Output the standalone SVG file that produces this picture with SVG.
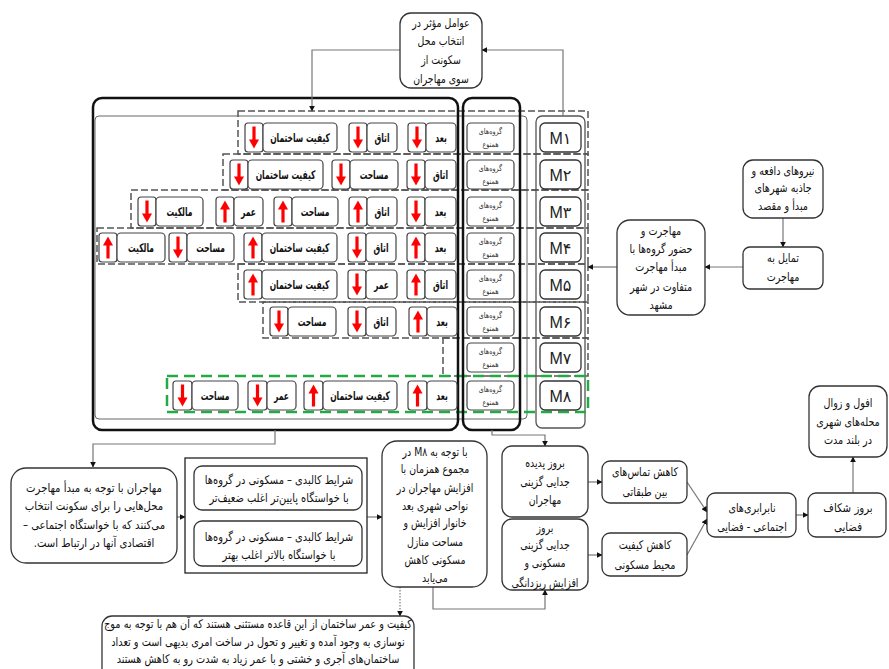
<svg xmlns="http://www.w3.org/2000/svg" xmlns:xlink="http://www.w3.org/1999/xlink" width="889" height="669" viewBox="0 0 889 669">
<style>
.t{font-family:"DejaVu Sans",sans-serif;font-size:12px;fill:#111;text-anchor:middle}
.c{font-family:"DejaVu Sans",sans-serif;font-size:12px;font-weight:bold;fill:#111;text-anchor:middle}
.g{font-family:"DejaVu Sans",sans-serif;font-size:8px;fill:#333;text-anchor:middle}
.m{font-family:"Liberation Sans","DejaVu Sans",sans-serif;font-size:16px;fill:#222;text-anchor:middle}
.box{fill:#fff;stroke:#333;stroke-width:1.3}
.cell{fill:#fff;stroke:#444;stroke-width:1.2}
.dash{fill:none;stroke:#555;stroke-width:1.5;stroke-dasharray:7 3}
.green{fill:none;stroke:#22aa44;stroke-width:2.5;stroke-dasharray:11 6}
.thick{fill:none;stroke:#111;stroke-width:2.5}
.thin{fill:none;stroke:#666;stroke-width:1}
.ln{fill:none;stroke:#777;stroke-width:1.2;marker-end:url(#ah)}
.dot{fill:none;stroke:#777;stroke-width:1.2;stroke-dasharray:1.5 1.5;marker-end:url(#ah)}
</style>
<defs>
<marker id="ah" viewBox="0 0 10 10" refX="9" refY="5" markerWidth="6" markerHeight="6" orient="auto" markerUnits="userSpaceOnUse"><path d="M0,0 L10,5 L0,10 z" fill="#111"/></marker>
<g id="aup"><line x1="0" y1="11" x2="0" y2="-3" stroke="#f00" stroke-width="3.2"/><polygon points="-5,-2 5,-2 0,-11" fill="#f00"/></g>
<g id="adn"><line x1="0" y1="-11" x2="0" y2="3" stroke="#f00" stroke-width="3.2"/><polygon points="-5,2 5,2 0,11" fill="#f00"/></g>
</defs>
<rect width="889" height="669" fill="#fff"/>

<g id="frames">
<rect class="thin" x="95" y="116" width="432" height="303" rx="4"/>
<rect class="thin" x="536" y="116" width="49" height="312" rx="6" style="stroke:#555;stroke-width:1.3"/>
<rect class="dash" x="238" y="111" width="350" height="43"/>
<rect class="dash" x="223" y="154" width="365" height="36"/>
<rect class="dash" x="131" y="190" width="457" height="38"/>
<rect class="dash" x="97" y="228" width="491" height="36"/>
<rect class="dash" x="238" y="264" width="350" height="38"/>
<rect class="dash" x="263" y="302" width="325" height="36"/>
<rect class="dash" x="443" y="338" width="145" height="38"/>
<rect class="green" x="167" y="376" width="421" height="36"/>
<rect class="thick" x="93" y="98" width="365" height="332" rx="9"/>
<rect class="thick" x="463" y="98" width="57" height="332" rx="9"/>
</g>

<g id="m1"><rect class="box" x="540" y="123" width="41" height="29" rx="5"/><text class="m" x="560.5" y="143.5">M۱</text></g>
<g id="m2"><rect class="box" x="540" y="160" width="41" height="29" rx="5"/><text class="m" x="560.5" y="180.5">M۲</text></g>
<g id="m3"><rect class="box" x="540" y="197" width="41" height="29" rx="5"/><text class="m" x="560.5" y="217.5">M۳</text></g>
<g id="m4"><rect class="box" x="540" y="233" width="41" height="29" rx="5"/><text class="m" x="560.5" y="253.5">M۴</text></g>
<g id="m5"><rect class="box" x="540" y="270" width="41" height="29" rx="5"/><text class="m" x="560.5" y="290.5">M۵</text></g>
<g id="m6"><rect class="box" x="540" y="307" width="41" height="29" rx="5"/><text class="m" x="560.5" y="327.5">M۶</text></g>
<g id="m7"><rect class="box" x="540" y="343" width="41" height="29" rx="5"/><text class="m" x="560.5" y="363.5">M۷</text></g>
<g id="m8"><rect class="box" x="540" y="381" width="41" height="29" rx="5"/><text class="m" x="560.5" y="401.5">M۸</text></g>

<g id="grp1"><rect class="cell" x="467" y="123" width="47" height="29" rx="4"/><g transform="translate(490.5 0) scale(.8 1)"><text class="g" y="134">گروه&#8204;های</text><text class="g" y="147">همنوع</text></g></g>
<g id="grp2"><rect class="cell" x="467" y="160" width="47" height="29" rx="4"/><g transform="translate(490.5 0) scale(.8 1)"><text class="g" y="171">گروه&#8204;های</text><text class="g" y="184">همنوع</text></g></g>
<g id="grp3"><rect class="cell" x="467" y="197" width="47" height="29" rx="4"/><g transform="translate(490.5 0) scale(.8 1)"><text class="g" y="208">گروه&#8204;های</text><text class="g" y="221">همنوع</text></g></g>
<g id="grp4"><rect class="cell" x="467" y="233" width="47" height="29" rx="4"/><g transform="translate(490.5 0) scale(.8 1)"><text class="g" y="244">گروه&#8204;های</text><text class="g" y="257">همنوع</text></g></g>
<g id="grp5"><rect class="cell" x="467" y="270" width="47" height="29" rx="4"/><g transform="translate(490.5 0) scale(.8 1)"><text class="g" y="281">گروه&#8204;های</text><text class="g" y="294">همنوع</text></g></g>
<g id="grp6"><rect class="cell" x="467" y="307" width="47" height="29" rx="4"/><g transform="translate(490.5 0) scale(.8 1)"><text class="g" y="318">گروه&#8204;های</text><text class="g" y="331">همنوع</text></g></g>
<g id="grp7"><rect class="cell" x="467" y="343" width="47" height="29" rx="4"/><g transform="translate(490.5 0) scale(.8 1)"><text class="g" y="354">گروه&#8204;های</text><text class="g" y="367">همنوع</text></g></g>
<g id="grp8"><rect class="cell" x="467" y="381" width="47" height="29" rx="4"/><g transform="translate(490.5 0) scale(.8 1)"><text class="g" y="392">گروه&#8204;های</text><text class="g" y="405">همنوع</text></g></g>

<g id="r1">
<rect class="cell" x="408" y="123" width="18" height="29" rx="3"/><use href="#adn" x="417" y="137.5"/><rect class="cell" x="426" y="123" width="30" height="29" rx="4"/><text class="c" transform="translate(441 0) scale(.63 1)" y="142">بعد</text>
<rect class="cell" x="349" y="123" width="18" height="29" rx="3"/><use href="#adn" x="358" y="137.5"/><rect class="cell" x="367" y="123" width="30" height="29" rx="4"/><text class="c" transform="translate(382 0) scale(.63 1)" y="142">اتاق</text>
<rect class="cell" x="245" y="123" width="18" height="29" rx="3"/><use href="#adn" x="254" y="137.5"/><rect class="cell" x="263" y="123" width="74" height="29" rx="4"/><text class="c" transform="translate(300 0) scale(.63 1)" y="142">کیفیت ساختمان</text>
</g>
<g id="r2">
<rect class="cell" x="407" y="160" width="18" height="29" rx="3"/><use href="#adn" x="416" y="174.5"/><rect class="cell" x="425" y="160" width="31" height="29" rx="4"/><text class="c" transform="translate(440.5 0) scale(.63 1)" y="179">اتاق</text>
<rect class="cell" x="332" y="160" width="18" height="29" rx="3"/><use href="#adn" x="341" y="174.5"/><rect class="cell" x="350" y="160" width="48" height="29" rx="4"/><text class="c" transform="translate(374 0) scale(.63 1)" y="179">مساحت</text>
<rect class="cell" x="230" y="160" width="18" height="29" rx="3"/><use href="#adn" x="239" y="174.5"/><rect class="cell" x="248" y="160" width="75" height="29" rx="4"/><text class="c" transform="translate(285.5 0) scale(.63 1)" y="179">کیفیت ساختمان</text>
</g>
<g id="r3">
<rect class="cell" x="407" y="197" width="18" height="29" rx="3"/><use href="#adn" x="416" y="211.5"/><rect class="cell" x="425" y="197" width="31" height="29" rx="4"/><text class="c" transform="translate(440.5 0) scale(.63 1)" y="216">بعد</text>
<rect class="cell" x="349" y="197" width="18" height="29" rx="3"/><use href="#aup" x="358" y="211.5"/><rect class="cell" x="367" y="197" width="30" height="29" rx="4"/><text class="c" transform="translate(382 0) scale(.63 1)" y="216">اتاق</text>
<rect class="cell" x="274" y="197" width="18" height="29" rx="3"/><use href="#aup" x="283" y="211.5"/><rect class="cell" x="292" y="197" width="46" height="29" rx="4"/><text class="c" transform="translate(315 0) scale(.63 1)" y="216">مساحت</text>
<rect class="cell" x="216" y="197" width="18" height="29" rx="3"/><use href="#aup" x="225" y="211.5"/><rect class="cell" x="234" y="197" width="29" height="29" rx="4"/><text class="c" transform="translate(248.5 0) scale(.63 1)" y="216">عمر</text>
<rect class="cell" x="138" y="197" width="18" height="29" rx="3"/><use href="#adn" x="147" y="211.5"/><rect class="cell" x="156" y="197" width="47" height="29" rx="4"/><text class="c" transform="translate(179.5 0) scale(.63 1)" y="216">مالکیت</text>
</g>
<g id="r4">
<rect class="cell" x="407" y="233" width="18" height="29" rx="3"/><use href="#aup" x="416" y="247.5"/><rect class="cell" x="425" y="233" width="31" height="29" rx="4"/><text class="c" transform="translate(440.5 0) scale(.63 1)" y="252">بعد</text>
<rect class="cell" x="348" y="233" width="18" height="29" rx="3"/><use href="#adn" x="357" y="247.5"/><rect class="cell" x="366" y="233" width="30" height="29" rx="4"/><text class="c" transform="translate(381 0) scale(.63 1)" y="252">اتاق</text>
<rect class="cell" x="244" y="233" width="18" height="29" rx="3"/><use href="#aup" x="253" y="247.5"/><rect class="cell" x="262" y="233" width="75" height="29" rx="4"/><text class="c" transform="translate(299.5 0) scale(.63 1)" y="252">کیفیت ساختمان</text>
<rect class="cell" x="169" y="233" width="18" height="29" rx="3"/><use href="#adn" x="178" y="247.5"/><rect class="cell" x="187" y="233" width="47" height="29" rx="4"/><text class="c" transform="translate(210.5 0) scale(.63 1)" y="252">مساحت</text>
<rect class="cell" x="99" y="233" width="18" height="29" rx="3"/><use href="#aup" x="108" y="247.5"/><rect class="cell" x="117" y="233" width="48" height="29" rx="4"/><text class="c" transform="translate(141 0) scale(.63 1)" y="252">مالکیت</text>
</g>
<g id="r5">
<rect class="cell" x="407" y="270" width="18" height="29" rx="3"/><use href="#aup" x="416" y="284.5"/><rect class="cell" x="425" y="270" width="31" height="29" rx="4"/><text class="c" transform="translate(440.5 0) scale(.63 1)" y="289">اتاق</text>
<rect class="cell" x="348" y="270" width="18" height="29" rx="3"/><use href="#adn" x="357" y="284.5"/><rect class="cell" x="366" y="270" width="31" height="29" rx="4"/><text class="c" transform="translate(381.5 0) scale(.63 1)" y="289">عمر</text>
<rect class="cell" x="244" y="270" width="18" height="29" rx="3"/><use href="#aup" x="253" y="284.5"/><rect class="cell" x="262" y="270" width="75" height="29" rx="4"/><text class="c" transform="translate(299.5 0) scale(.63 1)" y="289">کیفیت ساختمان</text>
</g>
<g id="r6">
<rect class="cell" x="409" y="307" width="18" height="29" rx="3"/><use href="#aup" x="418" y="321.5"/><rect class="cell" x="427" y="307" width="30" height="29" rx="4"/><text class="c" transform="translate(442 0) scale(.63 1)" y="326">بعد</text>
<rect class="cell" x="348" y="307" width="18" height="29" rx="3"/><use href="#adn" x="357" y="321.5"/><rect class="cell" x="366" y="307" width="30" height="29" rx="4"/><text class="c" transform="translate(381 0) scale(.63 1)" y="326">اتاق</text>
<rect class="cell" x="270" y="307" width="18" height="29" rx="3"/><use href="#adn" x="279" y="321.5"/><rect class="cell" x="288" y="307" width="48" height="29" rx="4"/><text class="c" transform="translate(312 0) scale(.63 1)" y="326">مساحت</text>
</g>
<g id="r8">
<rect class="cell" x="408" y="381" width="19" height="29" rx="3"/><use href="#aup" x="417.5" y="395.5"/><rect class="cell" x="427" y="381" width="30" height="29" rx="4"/><text class="c" transform="translate(442 0) scale(.63 1)" y="400">بعد</text>
<rect class="cell" x="304" y="381" width="19" height="29" rx="3"/><use href="#aup" x="313.5" y="395.5"/><rect class="cell" x="323" y="381" width="74" height="29" rx="4"/><text class="c" transform="translate(360 0) scale(.63 1)" y="400">کیفیت ساختمان</text>
<rect class="cell" x="248" y="381" width="19" height="29" rx="3"/><use href="#adn" x="257.5" y="395.5"/><rect class="cell" x="267" y="381" width="29" height="29" rx="4"/><text class="c" transform="translate(281.5 0) scale(.63 1)" y="400">عمر</text>
<rect class="cell" x="173" y="381" width="19" height="29" rx="3"/><use href="#adn" x="182.5" y="395.5"/><rect class="cell" x="192" y="381" width="46" height="29" rx="4"/><text class="c" transform="translate(215 0) scale(.63 1)" y="400">مساحت</text>
</g>

<g id="connectors">
<polyline class="ln" points="400,50 312,50 312,111"/>
<polyline class="ln" points="563,116 563,50 482,50"/>
<line class="ln" x1="617" y1="267" x2="588" y2="267"/>
<line class="ln" x1="743" y1="267" x2="705" y2="267"/>
<line class="ln" x1="783" y1="218" x2="783" y2="247"/>
<polyline class="ln" points="275,430 275,444 93,444 93,467"/>
<line class="ln" x1="177" y1="517" x2="185" y2="517"/>
<line class="ln" x1="367" y1="517" x2="382" y2="517"/>
<polyline class="ln" points="492,430 492,435 545,435 545,446"/>
<line class="ln" x1="588" y1="482" x2="602" y2="482"/>
<line class="ln" x1="588" y1="555" x2="602" y2="555"/>
<line class="ln" x1="687" y1="482" x2="707" y2="512"/>
<line class="ln" x1="687" y1="555" x2="707" y2="519"/>
<line class="ln" x1="796" y1="515" x2="808" y2="515"/>
<line class="ln" x1="853" y1="493" x2="853" y2="457"/>
<line class="dot" x1="400" y1="587" x2="400" y2="616"/>
<polyline class="ln" points="433,587 433,609 545,609 545,590"/>
</g>

<g id="factors"><rect class="box" x="400" y="13" width="82" height="75" rx="11"/>
<g transform="translate(441 0) scale(.78 1)"><text class="t" y="27">عوامل مؤثر در</text><text class="t" y="45">انتخاب محل</text><text class="t" y="64">سکونت از</text><text class="t" y="83">سوی مهاجران</text></g></g>

<g id="forces"><rect class="box" x="743" y="160" width="80" height="58" rx="10"/>
<g transform="translate(783 0) scale(.8 1)"><text class="t" y="175">نیروهای دافعه و</text><text class="t" y="192">جاذبه شهرهای</text><text class="t" y="210">مبدأ و مقصد</text></g></g>

<g id="tendency"><rect class="box" x="743" y="247" width="80" height="42" rx="7"/>
<g transform="translate(783 0) scale(.8 1)"><text class="t" y="262">تمایل به</text><text class="t" y="281">مهاجرت</text></g></g>

<g id="migration"><rect class="box" x="617" y="220" width="88" height="95" rx="13"/>
<g transform="translate(661 0) scale(.8 1)"><text class="t" y="235">مهاجرت و</text><text class="t" y="253">حضور گروه&#8204;ها با</text><text class="t" y="271">مبدأ مهاجرت</text><text class="t" y="291">متفاوت در شهر</text><text class="t" y="309">مشهد</text></g></g>

<g id="migrants"><rect class="box" x="11" y="468" width="166" height="95" rx="15"/>
<g transform="translate(94 0) scale(.84 1)"><text class="t" y="492">مهاجران با توجه به مبدأ مهاجرت</text><text class="t" y="510">محل&#8204;هایی را برای سکونت انتخاب</text><text class="t" y="529">می&#8204;کنند که با خواستگاه اجتماعی –&#8207;</text><text class="t" y="547">اقتصادی آنها در ارتباط است.&#8207;</text></g></g>

<g id="conditions"><rect x="185" y="458" width="182" height="115" fill="#fff" stroke="#222" stroke-width="1.3"/>
<rect class="box" x="194" y="466" width="168" height="44" rx="8"/>
<rect class="box" x="194" y="521" width="168" height="45" rx="8"/>
<g transform="translate(279 0) scale(.82 1)"><text class="t" y="484">شرایط کالبدی – مسکونی در گروه&#8204;ها</text><text class="t" y="502">با خواستگاه پایین&#8204;تر اغلب ضعیف&#8204;تر</text>
<text class="t" y="541">شرایط کالبدی – مسکونی در گروه&#8204;ها</text><text class="t" y="559">با خواستگاه بالاتر اغلب بهتر</text></g></g>

<g id="m8note"><rect class="box" x="382" y="441" width="105" height="146" rx="15"/>
<g transform="translate(435 0) scale(.78 1)"><text class="t" y="456">&#8235;با توجه به M۸ در&#8236;</text><text class="t" y="473">مجموع همزمان با</text><text class="t" y="492">افزایش مهاجران در</text><text class="t" y="510">نواحی شهری بعد</text><text class="t" y="527">خانوار افزایش و</text><text class="t" y="546">مساحت منازل</text><text class="t" y="564">مسکونی کاهش</text><text class="t" y="582">می&#8204;یابد</text></g></g>

<g id="segregation"><rect class="box" x="502" y="446" width="86" height="71" rx="10"/>
<g transform="translate(545 0) scale(.78 1)"><text class="t" y="467">بروز پدیده</text><text class="t" y="486">جدایی گزینی</text><text class="t" y="504">مهاجران</text></g></g>

<g id="resseg"><rect class="box" x="502" y="519" width="86" height="71" rx="10"/>
<g transform="translate(545 0) scale(.78 1)"><text class="t" y="532">بروز</text><text class="t" y="549">جدایی گزینی</text><text class="t" y="567">مسکونی و</text><text class="t" y="587">افزایش ریزدانگی</text></g></g>

<g id="contacts"><rect class="box" x="602" y="461" width="85" height="42" rx="8"/>
<g transform="translate(645 0) scale(.8 1)"><text class="t" y="476">کاهش تماس&#8204;های</text><text class="t" y="496">بین طبقاتی</text></g></g>

<g id="quality"><rect class="box" x="602" y="533" width="85" height="43" rx="8"/>
<g transform="translate(645 0) scale(.8 1)"><text class="t" y="549">کاهش کیفیت</text><text class="t" y="569">محیط مسکونی</text></g></g>

<g id="inequality"><rect class="box" x="707" y="493" width="89" height="44" rx="8"/>
<g transform="translate(752 0) scale(.8 1)"><text class="t" y="512">نابرابری&#8204;های</text><text class="t" y="531">اجتماعی - فضایی</text></g></g>

<g id="gap"><rect class="box" x="808" y="493" width="78" height="44" rx="8"/>
<g transform="translate(848 0) scale(.85 1)"><text class="t" y="512">بروز شکاف</text><text class="t" y="531">فضایی</text></g></g>

<g id="decline"><rect class="box" x="809" y="386" width="78" height="71" rx="11"/>
<g transform="translate(848 0) scale(.8 1)"><text class="t" y="407">افول و زوال</text><text class="t" y="426">محله&#8204;های شهری</text><text class="t" y="444">در بلند مدت</text></g></g>

<g id="quality-note"><rect class="box" x="102" y="616" width="312" height="70" rx="10"/>
<g transform="translate(258 0) scale(.81 1)"><text class="t" y="628">کیفیت و عمر ساختمان از این قاعده مستثنی هستند که آن هم با توجه به موج</text><text class="t" y="646">نوسازی به وجود آمده و تغییر و تحول در ساخت امری بدیهی است و تعداد</text><text class="t" y="663">ساختمان&#8204;های آجری و خشتی و با عمر زیاد به شدت رو به کاهش هستند</text></g></g>
</svg>
